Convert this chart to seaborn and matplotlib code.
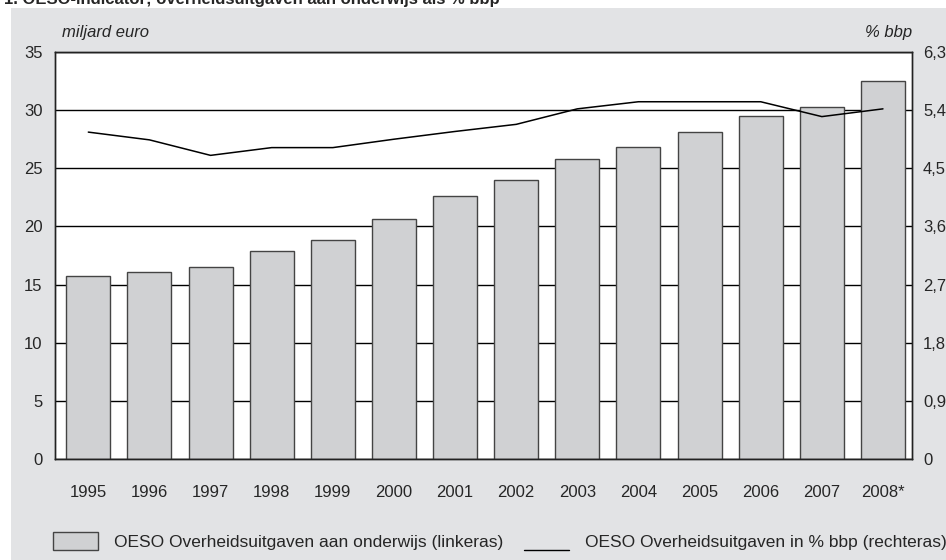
import matplotlib
matplotlib.use("Agg")
import matplotlib.pyplot as plt
from matplotlib.patches import Rectangle, Patch
from matplotlib.lines import Line2D
from matplotlib.legend_handler import HandlerLine2D
import numpy as np
import pandas as pd
import seaborn as sns

years = ["1995", "1996", "1997", "1998", "1999", "2000", "2001",
         "2002", "2003", "2004", "2005", "2006", "2007", "2008*"]
uitgaven = [15.7, 16.1, 16.5, 17.9, 18.8, 20.6, 22.6,
            24.0, 25.8, 26.8, 28.1, 29.5, 30.3, 32.5]
pct_bbp = [5.06, 4.94, 4.70, 4.82, 4.82, 4.95, 5.07,
           5.18, 5.42, 5.53, 5.53, 5.53, 5.30, 5.42]
left_ticks = [0, 5, 10, 15, 20, 25, 30, 35]
right_ticks = [0, 0.9, 1.8, 2.7, 3.6, 4.5, 5.4, 6.3]
right_labels = ["0", "0,9", "1,8", "2,7", "3,6", "4,5", "5,4", "6,3"]

bg = "#e2e3e5"
bar_col = "#d0d1d3"

df = pd.DataFrame({"jaar": years, "uitgaven": uitgaven, "pct": pct_bbp})


class LowLineHandler(HandlerLine2D):
    """legend line drawn at text baseline, like an underscore"""

    def create_artists(self, legend, orig_handle, xdescent, ydescent,
                       width, height, fontsize, trans):
        artists = super().create_artists(legend, orig_handle, xdescent, ydescent,
                                         width, height, fontsize, trans)
        for a in artists:
            a.set_ydata(np.asarray(a.get_ydata()) - 0.62 * fontsize)
        return artists


sns.set_style("white")
plt.rcParams["font.family"] = ["Liberation Sans", "DejaVu Sans"]

fig = plt.figure(figsize=(9.46, 5.6), dpi=100, facecolor="white")
# grey panel, white strip left and top
fig.patches.append(Rectangle((11 / 946, 0), 1, 552 / 560, transform=fig.transFigure,
                             facecolor=bg, edgecolor="none", zorder=-5))
# title is cut off at the top edge in the original
fig.text(4 / 946, 1 - 4 / 560, "1. OESO-indicator; overheidsuitgaven aan onderwijs als % bbp",
         fontsize=12, weight="bold", va="baseline", ha="left")

ax = fig.add_axes([55 / 946, 101 / 560, 857 / 946, 407 / 560])
ax.set_facecolor("white")
sns.barplot(data=df, x="jaar", y="uitgaven", ax=ax, color=bar_col,
            edgecolor="#444444", linewidth=1.0, width=0.72, saturation=1, zorder=2)
ax.set_ylim(0, 35)
ax.set_yticks(left_ticks)
ax.set_yticklabels([str(t) for t in left_ticks])
ax.yaxis.grid(True, color="black", linewidth=1.0, zorder=0)
ax.set_axisbelow(True)
ax.set_xlabel("")
ax.set_ylabel("")
ax.tick_params(axis="both", length=0, labelsize=12)
ax.tick_params(axis="x", pad=19)
ax.tick_params(axis="y", pad=9)

ax2 = ax.twinx()
sns.pointplot(data=df, x="jaar", y="pct", ax=ax2, color="black", marker="",
              linewidth=1.1, errorbar=None)
ax2.set_ylim(0, 6.3)
ax2.set_yticks(right_ticks)
ax2.set_yticklabels(right_labels)
ax2.set_ylabel("")
ax2.set_xlabel("")
ax2.tick_params(axis="y", length=0, labelsize=12, pad=8)
ax.set_xlim(-0.545, 13.475)
ax2.set_xlim(-0.545, 13.475)

for a in (ax, ax2):
    for s in a.spines.values():
        s.set_visible(True)
        s.set_color("#222222")
        s.set_linewidth(1.0)

fig.text(62 / 946, 1 - 33 / 560, "miljard euro", fontsize=12, style="italic",
         ha="left", va="center")
fig.text(912 / 946, 1 - 33 / 560, "% bbp", fontsize=12, style="italic",
         ha="right", va="center")

line_handle = Line2D([0], [0], color="black", linewidth=1.0)
handles = [Patch(facecolor=bar_col, edgecolor="#444444", linewidth=1.0), line_handle]
labels = ["OESO Overheidsuitgaven aan onderwijs (linkeras)",
          "OESO Overheidsuitgaven in % bbp (rechteras)"]
fig.legend(handles, labels, loc="center left", bbox_to_anchor=(53 / 946, 1 - 541 / 560),
           ncol=2, frameon=False, fontsize=12.5, handlelength=2.6, handleheight=1.27,
           handletextpad=0.9, columnspacing=1.2, borderpad=0, borderaxespad=0,
           handler_map={line_handle: LowLineHandler()})

fig.savefig("out.png", dpi=100, facecolor=fig.get_facecolor())
